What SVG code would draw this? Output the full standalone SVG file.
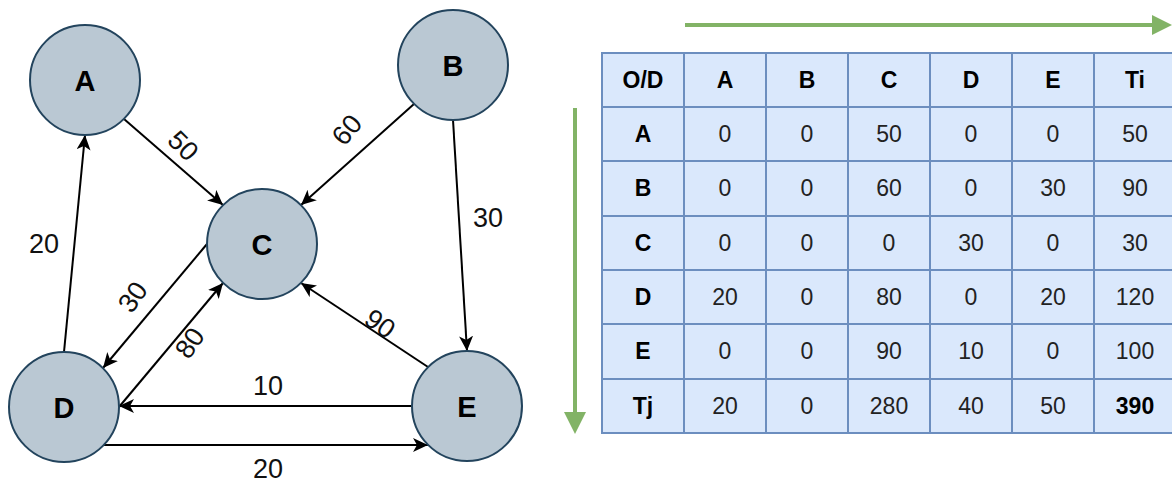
<svg xmlns="http://www.w3.org/2000/svg" width="1172" height="485" viewBox="0 0 1172 485">
<style>
.node{fill:#bac8d3;stroke:#23445d;stroke-width:2}
.nl{font-family:"Liberation Sans",Arial,sans-serif;font-weight:bold;font-size:29px;fill:#000;text-anchor:middle;dominant-baseline:central}
.edge{stroke:#000;stroke-width:2;fill:none;marker-end:url(#ah)}
.el{font-family:"Liberation Sans",Arial,sans-serif;font-size:27px;fill:#111;text-anchor:middle;dominant-baseline:central}
.cell{fill:#dae8fc;stroke:#6c8ebf;stroke-width:2}
.tt{font-family:"Liberation Sans",Arial,sans-serif;font-size:23px;fill:#222;text-anchor:middle;dominant-baseline:central}
.tb{font-weight:bold;fill:#000}
.green{stroke:#82b366;stroke-width:4;fill:none}
</style>
<defs>
<marker id="ah" markerUnits="userSpaceOnUse" markerWidth="16" markerHeight="14" refX="15" refY="7" orient="auto">
<path d="M0,0 L15,7 L0,14 L4,7 Z" fill="#000"/>
</marker>
</defs>
<rect width="1172" height="485" fill="#fff"/>
<g id="connectors">
<line class="edge" x1="124" y1="119" x2="223" y2="205"/>
<line class="edge" x1="414" y1="104" x2="301" y2="205"/>
<line class="edge" x1="453" y1="120" x2="467" y2="351"/>
<line class="edge" x1="64" y1="352" x2="85" y2="135"/>
<line class="edge" x1="207" y1="244" x2="103" y2="368"/>
<line class="edge" x1="119" y1="407" x2="223" y2="283"/>
<line class="edge" x1="428" y1="367" x2="301" y2="283"/>
<line class="edge" x1="412" y1="406" x2="119" y2="406"/>
<line class="edge" x1="103" y1="445" x2="428" y2="445"/>
<text class="el" transform="translate(183,146) rotate(45)">50</text>
<text class="el" transform="translate(347,130) rotate(-50)">60</text>
<text class="el" x="488" y="218">30</text>
<text class="el" x="44" y="244">20</text>
<text class="el" transform="translate(133,297) rotate(-55)">30</text>
<text class="el" transform="translate(190,343) rotate(-55)">80</text>
<text class="el" transform="translate(380,324) rotate(35)">90</text>
<text class="el" x="268" y="386">10</text>
<text class="el" x="268" y="469">20</text>
</g>
<g id="node-A"><circle class="node" cx="85" cy="80" r="55"/><text class="nl" x="85" y="81">A</text></g>
<g id="node-B"><circle class="node" cx="453" cy="65" r="55"/><text class="nl" x="453" y="66">B</text></g>
<g id="node-C"><circle class="node" cx="262" cy="244" r="55"/><text class="nl" x="262" y="245">C</text></g>
<g id="node-D"><circle class="node" cx="64" cy="407" r="55"/><text class="nl" x="64" y="408">D</text></g>
<g id="node-E"><circle class="node" cx="467" cy="406" r="55"/><text class="nl" x="467" y="407">E</text></g>
<g id="arrows-green">
<line class="green" x1="685" y1="25" x2="1154" y2="25"/>
<path d="M1152,15 L1172,25 L1152,35 Z" fill="#82b366"/>
<line class="green" x1="575" y1="108" x2="575" y2="414"/>
<path d="M564,412 L575,434 L586,412 Z" fill="#82b366"/>
</g>
<g id="table">
<rect class="cell" x="602" y="53" width="580" height="380"/>
<g stroke="#6c8ebf" stroke-width="2">
<line x1="684" y1="53" x2="684" y2="433"/>
<line x1="766" y1="53" x2="766" y2="433"/>
<line x1="848" y1="53" x2="848" y2="433"/>
<line x1="930" y1="53" x2="930" y2="433"/>
<line x1="1012" y1="53" x2="1012" y2="433"/>
<line x1="1094" y1="53" x2="1094" y2="433"/>
<line x1="602" y1="107" x2="1172" y2="107"/>
<line x1="602" y1="161" x2="1172" y2="161"/>
<line x1="602" y1="216" x2="1172" y2="216"/>
<line x1="602" y1="270" x2="1172" y2="270"/>
<line x1="602" y1="324" x2="1172" y2="324"/>
<line x1="602" y1="379" x2="1172" y2="379"/>
</g>
<g class="tt">
<text class="tt tb" x="643" y="80">O/D</text><text class="tt tb" x="725" y="80">A</text><text class="tt tb" x="807" y="80">B</text><text class="tt tb" x="889" y="80">C</text><text class="tt tb" x="971" y="80">D</text><text class="tt tb" x="1053" y="80">E</text><text class="tt tb" x="1135" y="80">Ti</text>
<text class="tt tb" x="643" y="134">A</text><text class="tt" x="725" y="134">0</text><text class="tt" x="807" y="134">0</text><text class="tt" x="889" y="134">50</text><text class="tt" x="971" y="134">0</text><text class="tt" x="1053" y="134">0</text><text class="tt" x="1135" y="134">50</text>
<text class="tt tb" x="643" y="188">B</text><text class="tt" x="725" y="188">0</text><text class="tt" x="807" y="188">0</text><text class="tt" x="889" y="188">60</text><text class="tt" x="971" y="188">0</text><text class="tt" x="1053" y="188">30</text><text class="tt" x="1135" y="188">90</text>
<text class="tt tb" x="643" y="243">C</text><text class="tt" x="725" y="243">0</text><text class="tt" x="807" y="243">0</text><text class="tt" x="889" y="243">0</text><text class="tt" x="971" y="243">30</text><text class="tt" x="1053" y="243">0</text><text class="tt" x="1135" y="243">30</text>
<text class="tt tb" x="643" y="297">D</text><text class="tt" x="725" y="297">20</text><text class="tt" x="807" y="297">0</text><text class="tt" x="889" y="297">80</text><text class="tt" x="971" y="297">0</text><text class="tt" x="1053" y="297">20</text><text class="tt" x="1135" y="297">120</text>
<text class="tt tb" x="643" y="351">E</text><text class="tt" x="725" y="351">0</text><text class="tt" x="807" y="351">0</text><text class="tt" x="889" y="351">90</text><text class="tt" x="971" y="351">10</text><text class="tt" x="1053" y="351">0</text><text class="tt" x="1135" y="351">100</text>
<text class="tt tb" x="643" y="406">Tj</text><text class="tt" x="725" y="406">20</text><text class="tt" x="807" y="406">0</text><text class="tt" x="889" y="406">280</text><text class="tt" x="971" y="406">40</text><text class="tt" x="1053" y="406">50</text><text class="tt tb" x="1135" y="406">390</text>
</g>
</g>
</svg>
